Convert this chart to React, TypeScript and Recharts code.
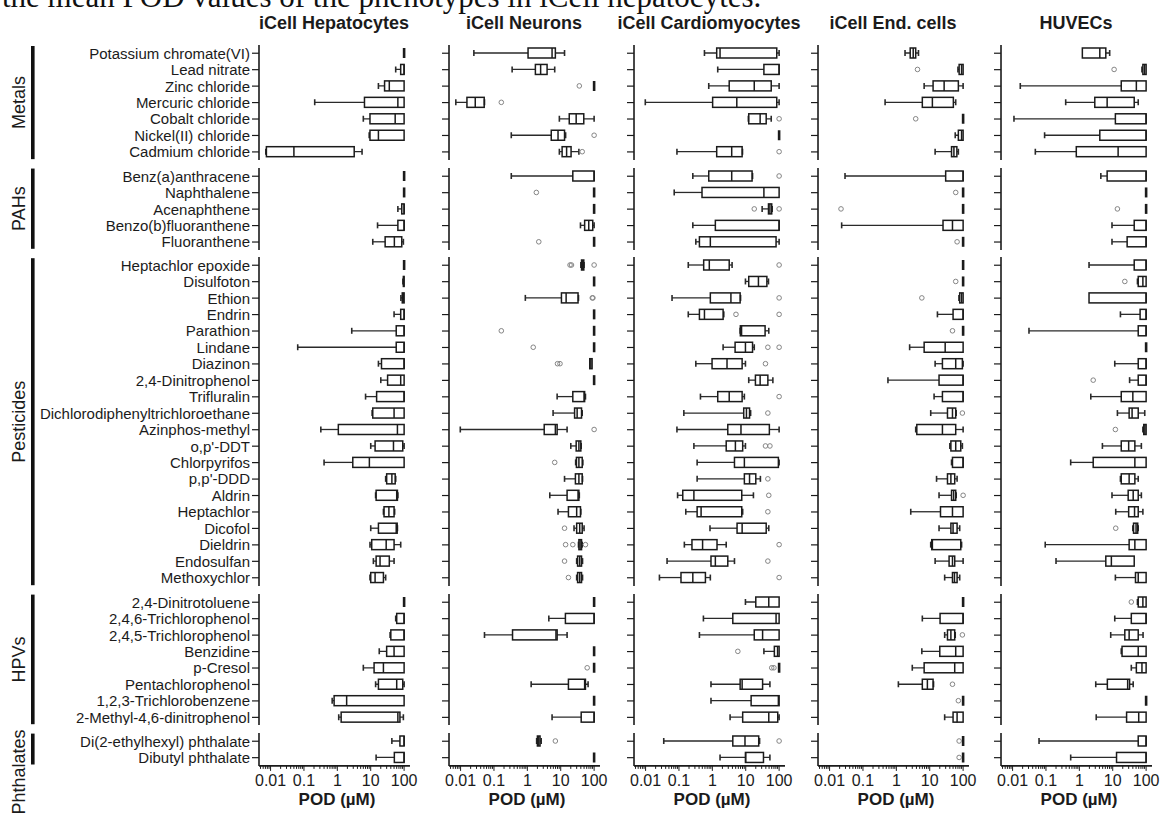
import React from 'react';
import { BarChart, Bar, XAxis, YAxis } from 'recharts';

// chemicals, grouped as in the figure
const metals = ['Potassium chromate(VI)', 'Lead nitrate', 'Zinc chloride', 'Mercuric chloride', 'Cobalt chloride', 'Nickel(II) chloride', 'Cadmium chloride'];
const pahs = ['Benz(a)anthracene', 'Naphthalene', 'Acenaphthene', 'Benzo(b)fluoranthene', 'Fluoranthene'];
const pesticides = ['Heptachlor epoxide', 'Disulfoton', 'Ethion', 'Endrin', 'Parathion', 'Lindane', 'Diazinon', '2,4-Dinitrophenol', 'Trifluralin', 'Dichlorodiphenyltrichloroethane', 'Azinphos-methyl', "o,p'-DDT", 'Chlorpyrifos', "p,p'-DDD", 'Aldrin', 'Heptachlor', 'Dicofol', 'Dieldrin', 'Endosulfan', 'Methoxychlor'];
const hpvs = ['2,4-Dinitrotoluene', '2,4,6-Trichlorophenol', '2,4,5-Trichlorophenol', 'Benzidine', 'p-Cresol', 'Pentachlorophenol', '1,2,3-Trichlorobenzene', '2-Methyl-4,6-dinitrophenol'];
const phthalates = ['Di(2-ethylhexyl) phthalate', 'Dibutyl phthalate'];

const groups = [metals, pahs, pesticides, hpvs, phthalates];
const groupNames = ['Metals', 'PAHs', 'Pesticides', 'HPVs', 'Phthalates'];
const panelTitles = ['iCell Hepatocytes', 'iCell Neurons', 'iCell Cardiomyocytes', 'iCell End. cells', 'HUVECs'];

const majorTicks = [0.01, 0.1, 1, 10, 100];
const minorTicks = [
  0.005, 0.006, 0.007, 0.008, 0.009,
  0.02, 0.03, 0.04, 0.05, 0.06, 0.07, 0.08, 0.09,
  0.2, 0.3, 0.4, 0.5, 0.6, 0.7, 0.8, 0.9,
  2, 3, 4, 5, 6, 7, 8, 9,
  20, 30, 40, 50, 60, 70, 80, 90,
];

// POD (uM): [min, q1, median, q3, max, outliers?]
type Box = [number, number, number, number, number, number[]?];
const NE: Box = [100, 100, 100, 100, 100];

const hepatocytes: Box[] = [
  NE, [56, 79, 100, 100, 100], [17, 26, 36, 100, 100], [0.21, 6.5, 65, 100, 100],
  [6, 9.5, 54, 100, 100], [9, 9.5, 17, 100, 100], [0.0072, 0.0075, 0.05, 3.2, 5.5],
  NE, NE, [65, 85, 100, 100, 100], [16, 65, 100, 100, 100], [11.5, 27, 51, 85, 95],
  NE, [92, 95, 97, 100, 100], [80, 88, 95, 100, 100], [50, 79, 100, 100, 100],
  [2.7, 58, 100, 100, 100], [0.065, 58, 100, 100, 100], [17, 21, 100, 100, 100],
  [20, 32, 79, 100, 100], [7, 15, 100, 100, 100], [11, 11.5, 50, 100, 100],
  [0.32, 1.07, 63, 100, 100], [10, 13.5, 48, 91, 100], [0.4, 2.9, 9.1, 100, 100],
  [28, 30, 43, 54, 56], [14, 14.5, 60, 63, 65], [24, 25, 35, 50, 52],
  [10, 17, 58, 62, 63], [9.5, 10.7, 29, 50, 79], [12, 14.5, 19, 36, 50],
  [9.5, 10, 13.5, 24, 28],
  NE, [56, 60, 100, 100, 100], [38, 40, 100, 100, 100], [18, 30, 50, 100, 100],
  [6, 12.6, 24, 100, 100], [14, 17, 60, 91, 100], [0.7, 0.8, 1.9, 100, 100],
  [1.1, 1.3, 65, 75, 95],
  [43, 75, 100, 100, 100], [14.5, 51, 100, 100, 100],
];

const neurons: Box[] = [
  [0.025, 1.05, 5.5, 6.9, 13], [0.35, 1.74, 2.5, 3.9, 6.6], [100, 100, 100, 100, 100, [36]],
  [0.0072, 0.0155, 0.0275, 0.051, 0.052, [0.166]], [9.1, 18, 29, 49, 100],
  [0.33, 5.2, 8.3, 13, 14, [100]], [9.1, 11, 15, 20.4, 35, [44]],
  [0.33, 23, 100, 100, 100], [100, 100, 100, 100, 100, [1.86]], NE,
  [39, 52, 69, 91, 100], [100, 100, 100, 100, 100, [2.2]],
  [40, 42, 45, 49, 50, [19, 21, 100]], NE, [0.87, 10.5, 14.5, 33, 34, [88, 92]], NE,
  [100, 100, 100, 100, 100, [0.166]], [100, 100, 100, 100, 100, [1.5]],
  [74, 74, 80, 87, 87, [8, 9.5]], NE, [7.8, 23, 50, 52, 55], [5.9, 26, 31, 42, 44],
  [0.0098, 3.2, 6.9, 7.8, 15.5, [100]], [20, 29, 35, 40, 41], [28, 29.5, 35, 44, 46, [6.6]],
  [13, 27.5, 35, 44, 45], [4.7, 15.5, 33, 35, 36], [8.3, 17, 30, 39, 40],
  [25, 30, 37, 44, 50, [13]], [34, 35, 38, 42, 44, [14, 23, 55]],
  [30, 32, 37, 42, 45, [13]], [30, 32, 37, 42, 45, [17]],
  NE, [4.4, 13.8, 100, 100, 100], [0.052, 0.36, 7.2, 7.8, 15.5], NE,
  [100, 100, 100, 100, 100, [62]], [1.3, 17, 52, 55, 66], NE, [5.5, 41, 100, 100, 100],
  [1.9, 2.0, 2.2, 2.4, 2.6, [6.9]], NE,
];

const cardiomyocytes: Box[] = [
  [0.58, 1.35, 1.7, 85, 100], [1.45, 35, 100, 100, 100], [0.78, 3.2, 18, 58, 100],
  [0.0098, 1.02, 5.4, 85, 100], [12, 12.3, 27, 41, 58, [100]], NE,
  [0.087, 1.35, 3.8, 7.8, 8, [100]],
  [0.26, 0.78, 3.8, 15.5, 16, [100]], [0.072, 0.49, 35, 100, 100],
  [31, 48, 53, 60, 62, [18, 100]], [0.26, 1.23, 100, 100, 100], [0.32, 0.41, 0.87, 81, 100],
  [0.19, 0.55, 0.81, 3.2, 3.9, [100]], [9.8, 12.3, 24, 43, 48], [0.062, 0.87, 3.6, 6.8, 7, [100]],
  [0.19, 0.41, 0.58, 2.1, 2.2, [5.1, 100]], [6.8, 6.9, 7.5, 38, 49],
  [2.1, 4.8, 9.8, 16, 18, [46, 100]], [0.32, 0.98, 2.75, 7.8, 9.8, [39]],
  [12.3, 19.5, 27, 46, 65], [0.44, 1.45, 3.2, 7.8, 9.1, [100]], [0.14, 8.7, 10.5, 13, 14, [46]],
  [0.087, 2.9, 7.2, 51, 100], [0.28, 2.6, 4.9, 8.1, 9.8, [39, 53]], [0.35, 4.6, 9.1, 95, 100],
  [0.35, 9.1, 13, 20, 27.5, [46]], [0.091, 0.13, 0.28, 7.6, 17, [49]],
  [0.16, 0.35, 0.46, 7.6, 8.1, [46]], [0.85, 5.5, 7.8, 41, 49],
  [0.145, 0.245, 0.51, 1.38, 2.6, [100]], [0.044, 0.91, 1.23, 2.9, 4.6, [46]],
  [0.026, 0.115, 0.26, 0.62, 0.87, [100]],
  [9.8, 20, 49, 100, 100], [0.54, 4.1, 81, 100, 100], [0.41, 18, 32, 100, 100],
  [35, 72, 90, 100, 100, [5.8]], [100, 100, 100, 100, 100, [60, 70]],
  [0.91, 6.8, 7.8, 32, 53], [0.91, 14.5, 95, 100, 100], [3.4, 8.1, 49, 91, 100],
  [0.035, 4.1, 9.5, 24.5, 26, [100]], [1.7, 9.8, 10, 34, 53],
];

const endothelial: Box[] = [
  [1.82, 2.6, 3.2, 3.8, 4.6], [70, 76, 90, 100, 100, [4.3]], [6.8, 12.6, 27, 72, 100],
  [0.46, 6, 12, 51, 60], [100, 100, 100, 100, 100, [3.8]], [58, 72, 90, 100, 100],
  [14.5, 45, 53, 65, 72],
  [0.029, 30, 100, 100, 100], [100, 100, 100, 100, 100, [60]], [100, 100, 100, 100, 100, [0.022]],
  [0.023, 25, 48, 100, 100], [100, 100, 100, 100, 100, [66]],
  NE, [100, 100, 100, 100, 100, [60]], [75, 79, 90, 100, 100, [5.8]], [17, 50, 100, 100, 100],
  [100, 100, 100, 100, 100, [48]], [2.5, 6.8, 29, 100, 100], [14.5, 24, 60, 95, 100],
  [0.56, 19, 100, 100, 100], [13.5, 24, 100, 100, 100], [10.7, 34, 48, 60, 62, [95]],
  [3.8, 4.1, 24, 60, 100], [40, 43, 60, 85, 95], [45, 48, 100, 100, 100],
  [16, 34, 43, 56, 66], [19, 45, 52, 60, 62, [100]], [2.7, 21, 48, 100, 100],
  [19, 43, 50, 66, 79], [10.7, 11.5, 12, 85, 90], [14.5, 38, 48, 56, 100],
  [28, 48, 55, 66, 79],
  NE, [6, 20.4, 100, 100, 100], [28, 34, 43, 56, 58, [95]], [5.8, 20, 60, 100, 100],
  [3.0, 6.8, 56, 100, 100], [1.15, 6, 8.5, 12.6, 13, [48]], [100, 100, 100, 100, 100, [72]],
  [28, 50, 66, 100, 100],
  [100, 100, 100, 100, 100, [76]], [100, 100, 100, 100, 100, [76]],
];

const huvecs: Box[] = [
  [1.23, 1.23, 4.1, 6.2, 8.1], [75, 80, 90, 100, 100, [11]], [0.017, 18, 51, 100, 100],
  [0.39, 2.9, 6.8, 44, 58], [0.011, 12, 100, 100, 100], [0.091, 4.1, 100, 100, 100],
  [0.048, 0.81, 14.5, 100, 100],
  [4.4, 6.8, 100, 100, 100], NE, [100, 100, 100, 100, 100, [13.8]],
  [9.5, 44, 100, 100, 100], [9.5, 27, 100, 100, 100],
  [1.95, 44, 100, 100, 100], [55, 58, 80, 100, 100, [23]], [1.95, 1.95, 100, 100, 100],
  [17, 66, 100, 100, 100], [0.031, 58, 100, 100, 100], NE, [11.5, 58, 100, 100, 100],
  [32, 58, 100, 100, 100, [2.6]], [2.2, 18, 40, 100, 100], [13.8, 31, 38, 58, 91],
  [80, 85, 92, 100, 100, [12]], [4.9, 18, 30, 46, 72], [0.55, 2.6, 46, 100, 100],
  [17, 18, 31, 46, 58], [9.5, 29, 41, 58, 72], [12.3, 30, 45, 58, 80],
  [40, 42, 50, 56, 58, [12.3]], [0.095, 31, 46, 100, 100], [0.2, 6.2, 9.1, 44, 44],
  [12, 48, 58, 100, 100],
  [55, 58, 80, 100, 100, [36]], [11.5, 36, 100, 100, 100], [8.7, 23, 31, 58, 81],
  [18, 19, 58, 100, 100], [36, 51, 75, 100, 100], [3.1, 6.9, 28, 32, 41], NE,
  [3.2, 26, 60, 100, 100],
  [0.062, 58, 100, 100, 100], [0.55, 13, 100, 100, 100],
];

const panels = [hepatocytes, neurons, cardiomyocytes, endothelial, huvecs];

// layout
const AXIS_X = [259, 449, 634, 818, 1001];
const PLOT_W = 151;
const RIGHT_PAD = 16;
const DOMAIN: [number, number] = [0.0045, 150];
const ROW_H = 16.45;
const GROUP_GAP = 7.4;
const TOP = 45;
const X_AXIS_H = 45;
const FONT = 'Liberation Sans, Arial, Helvetica, sans-serif';
const INK = '#1b1b1b';

const groupTops: number[] = [];
const groupStarts: number[] = [];
{
  let y = TOP;
  let k = 0;
  for (const g of groups) {
    groupTops.push(y);
    groupStarts.push(k);
    y += g.length * ROW_H + GROUP_GAP;
    k += g.length;
  }
}

const BoxShape = (props: any) => {
  const { x, y, width, height } = props;
  const row = props.payload ?? props;
  const [lo, hi] = row.span;
  const [mn, q1, md, q3, mx, out = []] = row.stats as Box;
  const la = Math.log10(lo);
  const range = Math.log10(hi) - la;
  const px = (v: number) => (range > 1e-9 ? x + (width * (Math.log10(v) - la)) / range : x);
  const cy = y + height / 2;
  const parts: React.ReactNode[] = [];
  if (mn < q1) {
    parts.push(<line key="wl" x1={px(mn)} x2={px(q1)} y1={cy} y2={cy} stroke="#2a2a2a" strokeWidth={1.3} />);
    parts.push(<line key="cl" x1={px(mn)} x2={px(mn)} y1={cy - 3} y2={cy + 3} stroke="#2a2a2a" strokeWidth={1.6} />);
  }
  if (mx > q3) {
    parts.push(<line key="wr" x1={px(q3)} x2={px(mx)} y1={cy} y2={cy} stroke="#2a2a2a" strokeWidth={1.3} />);
    parts.push(<line key="cr" x1={px(mx)} x2={px(mx)} y1={cy - 3} y2={cy + 3} stroke="#2a2a2a" strokeWidth={1.6} />);
  }
  if (q3 > q1) {
    parts.push(
      <rect key="box" x={px(q1)} y={y} width={px(q3) - px(q1)} height={height} fill="none" stroke={INK} strokeWidth={1.5} />
    );
    parts.push(<line key="med" x1={px(md)} x2={px(md)} y1={y} y2={y + height} stroke={INK} strokeWidth={1.5} />);
  } else {
    parts.push(<line key="tick" x1={px(md)} x2={px(md)} y1={y} y2={y + height} stroke={INK} strokeWidth={2.6} />);
  }
  out.forEach((o, i) => {
    parts.push(<circle key={'o' + i} cx={px(o)} cy={cy} r={2.3} fill="none" stroke="#858585" strokeWidth={1} />);
  });
  return <g>{parts}</g>;
};

const XTick = (props: any) => {
  const { x, y, payload } = props;
  const v = payload.value;
  const major = majorTicks.includes(v);
  return (
    <g>
      <line x1={x} x2={x} y1={y} y2={y + (major ? 5 : 3)} stroke={INK} strokeWidth={1} />
      {major && (
        <text x={x} y={y + 20} textAnchor="middle" fontSize={16} fontFamily={FONT} fill={INK}>
          {String(v)}
        </text>
      )}
    </g>
  );
};

const YLabel = (props: any) => (
  <text x={props.x} y={props.y} dy="0.36em" textAnchor="end" fontSize={15} fontFamily={FONT} fill={INK}>
    {props.payload.value}
  </text>
);

const NoLabel = () => <g />;

function GroupChart({ panel, g }: { panel: number; g: number }) {
  const names = groups[g];
  const stats = panels[panel];
  const rows = names.map((name, i) => {
    const s = stats[groupStarts[g] + i];
    const pts = [s[0], s[4], ...(s[5] ?? [])];
    return { name, span: [Math.min(...pts), Math.max(...pts)], stats: s };
  });
  const isBottom = g === groups.length - 1;
  const yW = panel === 0 ? AXIS_X[0] : 12;
  const h = names.length * ROW_H + (isBottom ? X_AXIS_H : 0);
  return (
    <div style={{ position: 'absolute', left: AXIS_X[panel] - yW, top: groupTops[g] }}>
      <BarChart
        width={yW + PLOT_W + RIGHT_PAD}
        height={h}
        data={rows}
        layout="vertical"
        margin={{ top: 0, right: RIGHT_PAD, bottom: 0, left: 0 }}
        barSize={10}
      >
        <XAxis
          type="number"
          scale="log"
          domain={DOMAIN}
          allowDataOverflow
          hide={!isBottom}
          height={X_AXIS_H}
          ticks={[...minorTicks, ...majorTicks]}
          interval={0}
          tick={<XTick />}
          tickLine={false}
          tickSize={0}
          tickMargin={0}
          axisLine={{ stroke: INK, strokeWidth: 1.6 }}
        />
        <YAxis
          type="category"
          dataKey="name"
          width={yW}
          interval={0}
          tickSize={7}
          tickMargin={2}
          tick={panel === 0 ? <YLabel /> : <NoLabel />}
          tickLine={{ stroke: INK, strokeWidth: 1.2 }}
          axisLine={{ stroke: INK, strokeWidth: 1.6 }}
        />
        <Bar dataKey="span" shape={BoxShape} isAnimationActive={false} />
      </BarChart>
    </div>
  );
}

export default function App() {
  return (
    <div
      style={{
        position: 'absolute',
        left: 0,
        top: 0,
        width: 1162,
        height: 817,
        overflow: 'hidden',
        background: '#ffffff',
      }}
    >
      <svg width={1162} height={817} style={{ position: 'absolute', left: 0, top: 0 }}>
        <text x={2} y={7} fontFamily="Liberation Serif, Times New Roman, serif" fontSize={31} fill="#111">
          the mean POD values of the phenotypes in iCell hepatocytes.
        </text>
        {panelTitles.map((t, i) => (
          <text key={t} x={AXIS_X[i] + 75} y={29} textAnchor="middle" fontSize={18} fontWeight="bold" fontFamily={FONT} fill={INK}>
            {t}
          </text>
        ))}
        {groups.map((g, i) => {
          const top = groupTops[i];
          const gh = g.length * ROW_H;
          const cy = i === groups.length - 1 ? 772 : top + gh / 2;
          return (
            <g key={groupNames[i]}>
              <rect x={31} y={top + 1} width={3.6} height={gh - 2} fill="#111" />
              <text transform={`translate(25, ${cy}) rotate(-90)`} textAnchor="middle" fontSize={18} fontFamily={FONT} fill={INK}>
                {groupNames[i]}
              </text>
            </g>
          );
        })}
        {AXIS_X.map((x) => (
          <text key={x} x={x + 78} y={805} textAnchor="middle" fontSize={17} fontWeight="bold" fontFamily={FONT} fill={INK}>
            POD (µM)
          </text>
        ))}
      </svg>
      {panels.map((_, p) => groups.map((__, g) => <GroupChart key={p + '-' + g} panel={p} g={g} />))}
    </div>
  );
}
